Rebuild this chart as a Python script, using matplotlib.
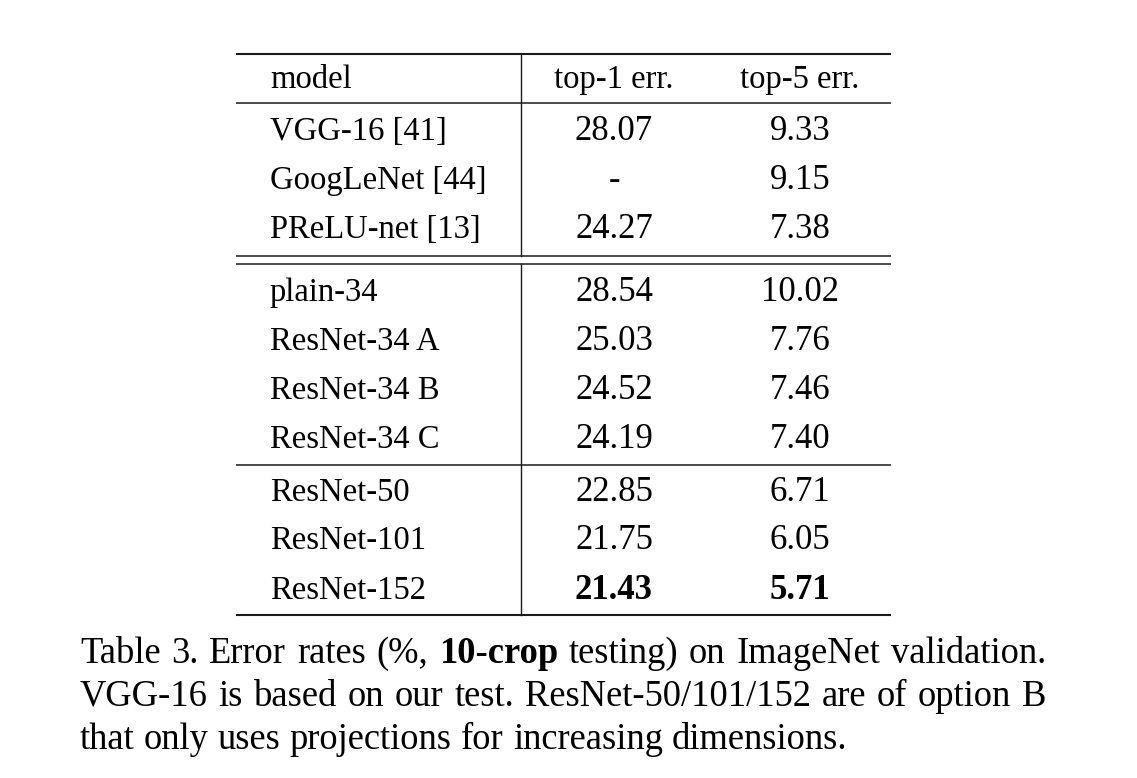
import matplotlib
matplotlib.use("Agg")
import matplotlib.pyplot as plt

models = ["VGG-16 [41]", "GoogLeNet [44]", "PReLU-net [13]",
          "plain-34", "ResNet-34 A", "ResNet-34 B", "ResNet-34 C",
          "ResNet-50", "ResNet-101", "ResNet-152"]
top1 = ["28.07", "-", "24.27", "28.54", "25.03", "24.52", "24.19", "22.85", "21.75", "21.43"]
top5 = ["9.33", "9.15", "7.38", "10.02", "7.76", "7.46", "7.40", "6.71", "6.05", "5.71"]
headers = ["model", "top-1 err.", "top-5 err."]
bold_rows = [9]

W, H = 1137, 778
fig = plt.figure(figsize=(W / 100, H / 100), dpi=100)
ax = fig.add_axes([0, 0, 1, 1])
ax.set_xlim(0, W)
ax.set_ylim(H, 0)
ax.axis("off")

FONT = "Liberation Serif"
FS_L = 23.5   # labels
FS_N = 25     # numbers
CFS = 26.3    # caption

x0, x1, xv = 236, 891, 521
xm, xc1, xc2 = 270, 614, 800
row_base = [140, 189, 238, 301, 350, 399, 448, 501, 549, 599]
head_base = 88

lc = "#1a1a1a"
# horizontal rules
ax.plot([x0, x1], [54, 54], color=lc, lw=1.5, solid_capstyle="butt")
ax.plot([x0, x1], [103, 103], color=lc, lw=1.1, solid_capstyle="butt")
ax.plot([x0, x1], [256, 256], color=lc, lw=1.1, solid_capstyle="butt")
ax.plot([x0, x1], [264, 264], color=lc, lw=1.1, solid_capstyle="butt")
ax.plot([x0, x1], [465, 465], color=lc, lw=1.1, solid_capstyle="butt")
ax.plot([x0, x1], [615, 615], color=lc, lw=1.5, solid_capstyle="butt")
# vertical rule
ax.plot([xv, xv], [54, 256], color=lc, lw=1.0)
ax.plot([xv, xv], [264, 615], color=lc, lw=1.0)

ax.text(xm, head_base, headers[0], fontsize=FS_L, family=FONT, ha="left", va="baseline")
ax.text(xc1, head_base, headers[1], fontsize=FS_L, family=FONT, ha="center", va="baseline")
ax.text(xc2, head_base, headers[2], fontsize=FS_L, family=FONT, ha="center", va="baseline")

for i, (m, a, b) in enumerate(zip(models, top1, top5)):
    y = row_base[i]
    fw = "bold" if i in bold_rows else "normal"
    ax.text(xm, y, m, fontsize=FS_L, family=FONT, ha="left", va="baseline")
    ax.text(xc1, y, a, fontsize=FS_N, family=FONT, ha="center", va="baseline", fontweight=fw)
    ax.text(xc2, y, b, fontsize=FS_N, family=FONT, ha="center", va="baseline", fontweight=fw)

# caption (justified like the LaTeX original, last line ragged)
caption = [
    [("Table", "normal"), ("3.", "normal"), ("Error", "normal"), ("rates", "normal"),
     ("(%,", "normal"), ("10-crop", "bold"), ("testing)", "normal"), ("on", "normal"),
     ("ImageNet", "normal"), ("validation.", "normal")],
    [(w, "normal") for w in "VGG-16 is based on our test. ResNet-50/101/152 are of option B".split(" ")],
    [(w, "normal") for w in "that only uses projections for increasing dimensions.".split(" ")],
]
justify = [True, True, False]
cap_base = [663, 706, 749]
cap_left, cap_right = 80, 1046

renderer = fig.canvas.get_renderer()
px_per_unit = 1.0  # data units are pixels


def width_of(s, fw):
    t = ax.text(0, 0, s, fontsize=CFS, family=FONT, fontweight=fw)
    bb = t.get_window_extent(renderer=renderer)
    t.remove()
    return bb.width


space_w = width_of("a a", "normal") - width_of("aa", "normal")

for words, y, just in zip(caption, cap_base, justify):
    widths = [width_of(w, fw) for w, fw in words]
    if just and len(words) > 1:
        gap = (cap_right - cap_left - sum(widths)) / (len(words) - 1)
    else:
        gap = space_w
    x = cap_left
    for (w, fw), wd in zip(words, widths):
        ax.text(x, y, w, fontsize=CFS, family=FONT, fontweight=fw, ha="left", va="baseline")
        x += wd + gap

fig.savefig("out.png", dpi=100)
